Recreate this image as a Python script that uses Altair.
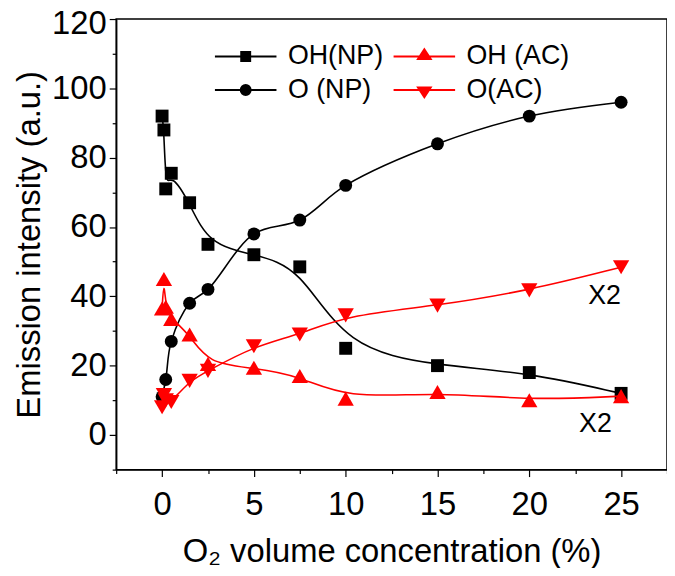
import altair as alt
import pandas as pd

# ---------------- data ----------------
x_oh_np = [0, 0.1, 0.2, 0.5, 1.5, 2.5, 5, 7.5, 10, 15, 20, 25]
y_oh_np = [92, 88, 71, 75.5, 67, 55, 52, 48.5, 25, 20, 18, 12]

x_o_np = [0, 0.2, 0.5, 1.5, 2.5, 5, 7.5, 10, 15, 20, 25]
y_o_np = [11, 16, 27, 38, 42, 58, 62, 72, 84, 92, 96]

x_oh_ac = [0, 0.1, 0.2, 0.5, 1.5, 2.5, 5, 7.5, 10, 15, 20, 25]
y_oh_ac = [36.5, 45, 37, 33.5, 29, 20.5, 19.4, 17, 10.5, 12.4, 10, 11.2]

x_o_ac = [0, 0.1, 0.2, 0.5, 1.5, 2.5, 5, 7.5, 10, 15, 20, 25]
y_o_ac = [8, 11.5, 10, 9.5, 15.6, 18.5, 25.6, 29, 34.5, 37.3, 41.7, 48.4]

# legend order (column-major, two columns)
series_names = ["OH(NP)", "O (NP)", "OH (AC)", "O(AC)"]
series_colors = ["#000000", "#000000", "#ff0000", "#ff0000"]

x2_x = [24.1, 23.6]
x2_y = [40.1, 3.2]
x2_text = ["X2", "X2"]

x_ticks = [-2.5, 0, 2.5, 5, 7.5, 10, 12.5, 15, 17.5, 20, 22.5, 25, 27.5]
y_ticks = [-10, 0, 10, 20, 30, 40, 50, 60, 70, 80, 90, 100, 110, 120]

# legend symbols: a short line with the marker on it (units of sqrt(size)/2)
legend_paths = [
    "M-3.1,0H3.1M-0.45,-0.45H0.45V0.45H-0.45Z",
    "M-3.1,0H3.1M0.5,0A0.5,0.5,0,1,1,-0.5,0A0.5,0.5,0,1,1,0.5,0Z",
    "M-3.1,0H3.1M0,-0.72L0.64,0.26H-0.64Z",
    "M-3.1,0H3.1M0,0.72L0.64,-0.26H-0.64Z",
]

FONT = "Liberation Sans"

rows = []
for name, xs, ys in [("OH(NP)", x_oh_np, y_oh_np), ("O (NP)", x_o_np, y_o_np),
                     ("OH (AC)", x_oh_ac, y_oh_ac), ("O(AC)", x_o_ac, y_o_ac)]:
    for a, b in zip(xs, ys):
        rows.append({"series": name, "x": a, "y": b})
df = pd.DataFrame(rows)
df_txt = pd.DataFrame({"x": x2_x, "y": x2_y, "t": x2_text})

xscale = alt.Scale(domain=[-2.5, 27.5], nice=False, zero=False)
yscale = alt.Scale(domain=[-10, 120], nice=False, zero=False)

x_axis = alt.Axis(
    values=x_ticks,
    labelExpr="datum.value % 5 === 0 ? datum.label : ''",
    tickSize={"condition": {"test": "datum.value % 5 !== 0", "value": 4}, "value": 7},
    labelPadding=12,
    title="O₂ volume concentration (%)",
    titleY=93,
    titleBaseline="alphabetic",
)
y_axis = alt.Axis(
    values=y_ticks,
    labelExpr="datum.value % 20 === 0 ? datum.label : ''",
    tickSize={"condition": {"test": "datum.value % 20 !== 0", "value": 4}, "value": 7},
    labelOffset={"condition": {"test": "datum.value === 120", "value": 5}, "value": 0},
    labelPadding=3,
    title="Emission intensity (a.u.)",
    titlePadding=5,
)

X = alt.X("x:Q", scale=xscale, axis=x_axis)
Y = alt.Y("y:Q", scale=yscale, axis=y_axis)

base = alt.Chart(df).encode(x=X, y=Y)

layers = []
specs = [
    ("OH(NP)", "#000000", "square", 169, "basis"),
    ("O (NP)", "#000000", "circle", 169, "catmull-rom"),
    ("OH (AC)", "#ff0000", "triangle-up", 270, "basis"),
    ("O(AC)", "#ff0000", "triangle-down", 270, "basis"),
]
for name, col, shp, sz, interp in specs:
    sub = base.transform_filter(alt.datum.series == name)
    layers.append(sub.mark_line(color=col, strokeWidth=1.6, interpolate=interp))
    layers.append(sub.mark_point(shape=shp, filled=True, size=sz, color=col,
                                 opacity=1, strokeWidth=0))

leg = alt.Legend(
    title=None, orient="none", legendX=117, legendY=24, columns=2,
    symbolSize=400, symbolStrokeWidth=2, labelFont=FONT, labelFontSize=27,
    labelColor="black", labelOffset=29, columnPadding=6, rowPadding=6,
    labelLimit=400,
)
legend_layer = base.transform_filter("false").mark_point(
    filled=True, size=400, strokeWidth=2, opacity=1
).encode(
    shape=alt.Shape("series:N", scale=alt.Scale(domain=series_names, range=legend_paths), legend=leg),
    fill=alt.Fill("series:N", scale=alt.Scale(domain=series_names, range=series_colors), legend=leg),
    stroke=alt.Stroke("series:N", scale=alt.Scale(domain=series_names, range=series_colors), legend=leg),
)
layers.append(legend_layer)

text_layer = alt.Chart(df_txt).mark_text(
    font=FONT, fontSize=27, color="black", align="center", baseline="middle"
).encode(x=X, y=Y, text="t:N")
layers.append(text_layer)

chart = alt.layer(*layers).properties(
    width=555, height=454,
    autosize=alt.AutoSizeParams(type="none"),
    padding={"left": 109, "top": 9, "right": 0, "bottom": 97},
).configure_view(
    stroke="black", strokeWidth=1.5
).configure_axis(
    domainColor="black", domainWidth=1.5, tickColor="black", tickWidth=1.2,
    labelFont=FONT, labelFontSize=33, labelColor="black",
    titleFont=FONT, titleFontSize=33, titleColor="black", titleFontWeight="normal",
    grid=False,
)

chart.save("out.html", embed_options={"renderer": "svg", "actions": False})
